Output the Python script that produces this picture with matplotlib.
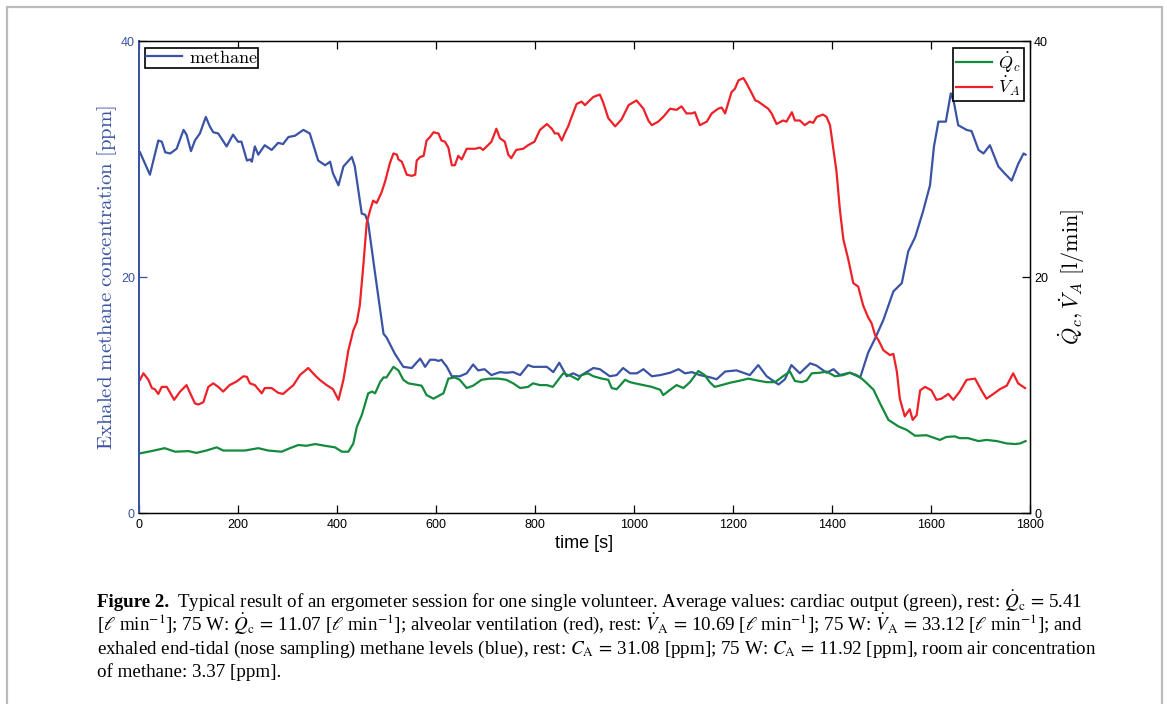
import matplotlib
matplotlib.use("Agg")
import matplotlib.pyplot as plt
from matplotlib.patches import Rectangle

# ---------------- data ----------------
t_methane = [2,22,39,46,53,63,76,90,96,105,113,123,135,143,150,160,177,190,200,207,218,225,228,234,241,254,268,281,291,302,315,332,345,362,376,386,392,403,413,430,436,450,457,463,477,487,494,500,517,534,551,568,578,588,598,605,611,622,632,648,662,675,685,698,712,729,742,756,770,786,796,824,837,849,864,877,890,904,918,931,951,965,978,992,1006,1019,1036,1053,1073,1090,1103,1117,1133,1150,1167,1184,1207,1234,1251,1268,1292,1305,1318,1335,1356,1369,1389,1403,1416,1436,1457,1473,1487,1504,1524,1541,1554,1568,1584,1598,1606,1615,1630,1640,1646,1655,1672,1682,1696,1706,1719,1736,1749,1763,1776,1787,1791]
methane = [30.6,28.7,31.6,31.5,30.6,30.5,30.9,32.5,32.1,30.7,31.6,32.2,33.6,32.8,32.3,32.2,31.1,32.1,31.5,31.5,29.9,30.0,29.8,31.1,30.4,31.2,30.8,31.4,31.3,31.9,32.0,32.5,32.2,29.9,29.5,29.8,28.8,27.8,29.4,30.2,29.4,25.4,25.3,24.6,20.3,17.3,15.2,14.9,13.5,12.4,12.3,13.1,12.4,13.0,13.0,12.9,13.0,12.4,11.6,11.6,11.85,12.6,12.1,12.2,11.7,11.95,11.9,11.95,11.7,12.55,12.4,12.4,11.95,12.75,11.6,11.85,11.6,11.95,12.3,12.2,11.6,11.7,12.3,11.85,11.85,12.2,11.6,11.7,11.9,12.2,11.85,11.95,11.7,11.55,11.35,12.0,12.1,11.7,12.55,11.6,10.9,11.35,12.55,11.85,12.7,12.5,11.9,12.2,11.7,11.9,11.5,13.6,14.8,16.4,18.8,19.5,22.2,23.4,25.6,27.8,31.1,33.2,33.2,35.6,34.9,32.9,32.5,32.4,30.8,30.5,31.2,29.4,28.8,28.2,29.6,30.5,30.4]

t_va = [2,9,19,26,32,39,46,56,63,71,83,96,103,113,120,130,140,150,160,170,183,197,211,218,224,234,248,254,268,281,291,302,312,325,342,355,365,379,392,403,413,423,433,440,446,453,460,467,473,480,490,497,507,514,521,524,531,541,551,558,561,568,575,581,588,595,605,611,618,625,632,638,645,652,662,679,689,695,705,712,722,729,739,746,752,762,776,786,799,810,824,834,840,847,854,860,867,874,884,894,901,908,918,931,938,948,962,975,989,1005,1019,1029,1036,1049,1059,1073,1086,1096,1106,1117,1123,1133,1147,1157,1170,1177,1184,1197,1204,1211,1221,1228,1238,1245,1251,1261,1271,1278,1288,1301,1308,1319,1325,1335,1345,1355,1362,1369,1382,1389,1396,1403,1409,1416,1423,1433,1443,1453,1458,1463,1473,1480,1487,1494,1504,1517,1524,1531,1537,1547,1557,1563,1571,1578,1588,1601,1611,1621,1635,1645,1658,1672,1689,1702,1712,1726,1739,1753,1766,1776,1790]
va = [11.3,11.85,11.3,10.6,10.5,10.1,10.7,10.7,10.2,9.6,10.3,10.85,10.2,9.3,9.2,9.4,10.7,11.0,10.7,10.3,10.85,11.15,11.6,11.55,11.0,10.85,10.15,10.6,10.6,10.2,10.1,10.5,10.85,11.7,12.3,11.7,11.3,10.85,10.5,9.6,11.3,13.8,15.5,16.2,17.6,20.9,24.6,25.7,26.5,26.3,27.2,28.1,29.7,30.5,30.4,30.0,29.8,28.7,28.6,28.7,29.9,30.2,30.3,31.6,31.9,32.3,32.2,31.6,31.5,31.0,29.5,29.5,30.3,30.0,30.9,30.9,31.0,30.8,31.2,31.5,32.6,31.8,31.5,30.4,30.1,30.8,30.9,31.2,31.5,32.5,33.0,32.6,32.2,32.2,31.6,32.2,32.8,33.6,34.7,34.9,34.6,34.9,35.3,35.5,34.8,33.5,32.8,33.4,34.6,35.0,34.3,33.3,32.9,33.2,33.6,34.3,34.2,34.5,33.9,33.9,34.0,32.9,33.2,33.9,34.3,34.4,33.9,35.7,36.0,36.7,36.9,36.4,35.6,35.0,34.9,34.6,34.3,33.9,33.0,33.3,33.2,34.0,33.3,33.3,32.9,33.2,33.1,33.6,33.8,33.6,32.9,30.8,29.0,25.7,23.2,21.5,19.5,19.2,18.4,17.6,16.6,16.1,15.1,14.65,13.8,13.4,13.5,12.0,9.7,8.2,8.8,7.9,8.3,10.4,10.7,10.4,9.6,9.7,10.1,9.6,10.3,11.3,11.4,10.4,9.7,10.1,10.5,10.8,11.85,11.0,10.6]

t_qc = [2,25,52,73,100,116,136,157,170,194,214,241,261,288,305,322,338,356,376,396,410,423,433,440,450,463,471,477,487,494,500,514,524,534,544,558,571,581,595,608,615,625,638,648,662,675,692,709,726,742,756,770,786,796,810,824,836,847,857,874,887,894,907,918,935,948,955,965,982,992,1002,1019,1036,1053,1059,1073,1086,1100,1113,1130,1143,1153,1163,1177,1194,1211,1231,1248,1268,1285,1301,1315,1325,1339,1349,1359,1376,1389,1406,1423,1436,1450,1463,1473,1484,1497,1514,1534,1551,1568,1591,1618,1631,1648,1658,1675,1696,1712,1733,1753,1770,1780,1791]
qc = [5.06,5.25,5.5,5.2,5.25,5.1,5.3,5.57,5.3,5.3,5.3,5.5,5.3,5.2,5.5,5.77,5.7,5.85,5.7,5.57,5.2,5.2,5.9,7.3,8.3,10.15,10.3,10.15,11.1,11.5,11.5,12.4,12.1,11.3,11.0,10.9,10.8,10.0,9.7,10.0,10.15,11.4,11.5,11.3,10.6,10.8,11.3,11.4,11.4,11.3,11.0,10.6,10.7,11.0,10.85,10.85,10.7,11.3,11.85,11.6,11.3,11.7,11.85,11.6,11.4,11.3,10.6,10.5,11.3,11.1,11.0,10.85,10.7,10.45,10.0,10.45,10.85,10.6,11.1,12.05,11.7,11.1,10.7,10.85,11.05,11.2,11.4,11.25,11.1,11.1,11.6,12.0,11.2,11.1,11.25,11.85,11.9,12.0,11.6,11.7,11.9,11.7,11.3,10.9,10.45,9.3,7.9,7.35,7.05,6.55,6.6,6.2,6.45,6.5,6.35,6.35,6.1,6.2,6.1,5.9,5.85,5.9,6.1]

x_ticks = [0, 200, 400, 600, 800, 1000, 1200, 1400, 1600, 1800]
y_ticks = [0, 20, 40]

BLUE = "#3a53a4"
RED = "#ee2128"
GREEN = "#138a3d"

W, H = 1167, 704
fig = plt.figure(figsize=(W / 100, H / 100), dpi=100)

# outer frame
fig.patches.append(Rectangle((7 / W, -0.02), (1162 - 7) / W, (H - 7) / H + 0.02,
                             transform=fig.transFigure, fill=False,
                             edgecolor="#bcbcbc", linewidth=1.6))

ax = fig.add_axes([139 / W, 1 - 513 / H, (1030 - 139) / W, (513 - 41.5) / H])
ax2 = ax.twinx()

ax.plot(t_methane, methane, color=BLUE, lw=1.6, label=r"$\mathrm{methane}$")
ax2.plot(t_qc, qc, color=GREEN, lw=1.6, label=r"$\dot{Q}_c$")
ax2.plot(t_va, va, color=RED, lw=1.6, label=r"$\dot{V}_A$")

for a in (ax, ax2):
    a.set_xlim(0, 1800)
    a.set_ylim(0, 40)
    a.set_yticks(y_ticks)

tickfont = dict(family=["Liberation Sans Narrow", "Liberation Sans", "DejaVu Sans"], size=9)
ax.set_xticks(x_ticks)
ax.set_xticklabels([str(v) for v in x_ticks], **tickfont)
ax.set_yticklabels([str(v) for v in y_ticks], **tickfont)
ax2.set_yticklabels([str(v) for v in y_ticks], **tickfont)

ax.tick_params(axis="x", direction="in", length=6, width=0.9, top=True, pad=4)
ax.tick_params(axis="y", direction="in", length=6, width=0.9, colors=BLUE, pad=3)
ax2.tick_params(axis="y", direction="in", length=6, width=0.9, colors="black", pad=3)

for s in ("top", "bottom", "right"):
    ax2.spines[s].set_linewidth(1.0)
ax2.spines["left"].set_color(BLUE)
ax2.spines["left"].set_linewidth(1.4)
ax.spines["left"].set_color(BLUE)
ax.spines["left"].set_linewidth(1.4)

ax.set_xlabel("time [s]", family=["Liberation Sans Narrow", "Liberation Sans"], size=13, labelpad=3)
ax.set_ylabel(r"$\mathrm{Exhaled\ methane\ concentration\ [ppm]}$", color=BLUE,
              size=15, labelpad=1)
ax.yaxis.label.set_math_fontfamily("cm")
ax2.set_ylabel(r"$\dot{Q}_c, \dot{V}_A\ \mathrm{[l/min]}$", size=16, labelpad=6)
ax2.yaxis.label.set_math_fontfamily("cm")

leg1 = ax.legend(loc="upper left", fancybox=False, edgecolor="black", framealpha=1,
                 handlelength=2.0, borderpad=0.05, borderaxespad=0.35, handletextpad=0.35,
                 prop=dict(size=13))
leg1.get_frame().set_linewidth(1.2)
for tx in leg1.get_texts():
    tx.set_math_fontfamily("cm")
leg2 = ax2.legend(loc="upper right", fancybox=False, edgecolor="black", framealpha=1,
                  handlelength=2.0, borderpad=0.15, borderaxespad=0.35, handletextpad=0.35,
                  labelspacing=0.0, prop=dict(size=13))
leg2.get_frame().set_linewidth(1.2)
for tx in leg2.get_texts():
    tx.set_math_fontfamily("cm")

# caption
cap_font = dict(family=["Liberation Serif", "DejaVu Serif"], size=13.7, math_fontfamily="stix",
                va="baseline", ha="left")
x0 = 97 / W
t_bold = fig.text(x0, 1 - 607 / H, "Figure 2.", weight="bold", **cap_font)
fig.canvas.draw()
bb = t_bold.get_window_extent()
x1 = (bb.x1 + 8) / W
u = r"[$\ell$ min$^{-1}$]"
fig.text(x1, 1 - 607 / H,
         r"Typical result of an ergometer session for one single volunteer. Average values: cardiac output (green), rest: $\dot{Q}_\mathrm{c}\,=\,$5.41",
         **cap_font)
fig.text(x0, 1 - 630 / H,
         u + r"; 75 W: $\dot{Q}_\mathrm{c}\,=\,$11.07 " + u + r"; alveolar ventilation (red), rest: $\dot{V}_\mathrm{A}\,=\,$10.69 " + u + r"; 75 W: $\dot{V}_\mathrm{A}\,=\,$33.12 " + u + "; and",
         **cap_font)
fig.text(x0, 1 - 654 / H,
         r"exhaled end-tidal (nose sampling) methane levels (blue), rest: $C_\mathrm{A}\,=\,$31.08 [ppm]; 75 W: $C_\mathrm{A}\,=\,$11.92 [ppm], room air concentration",
         **cap_font)
fig.text(x0, 1 - 677 / H, "of methane: 3.37 [ppm].", **cap_font)

fig.savefig("out.png", dpi=100)
